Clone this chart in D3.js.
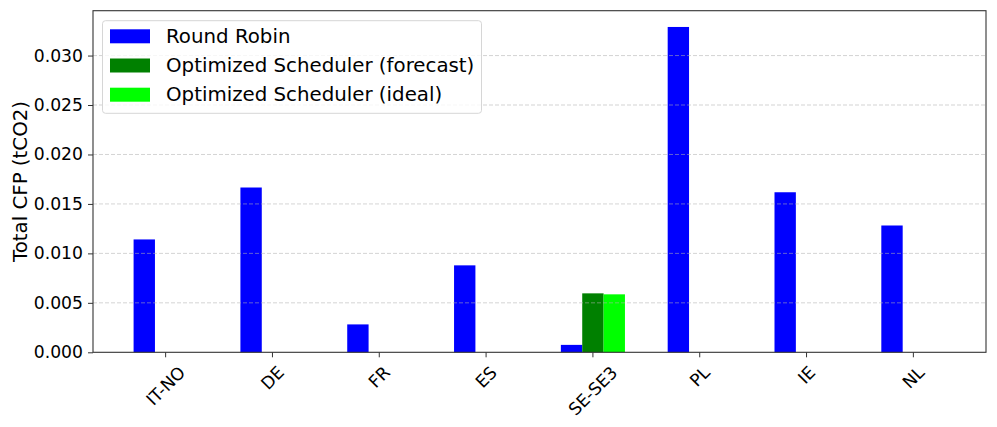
<!DOCTYPE html>
<html>
<head>
<meta charset="utf-8">
<script src="https://cdn.jsdelivr.net/npm/d3@7"></script>
<style>
  body { margin: 0; background: #fff; }
  text { font-family: "DejaVu Sans", sans-serif; fill: #000; }
</style>
</head>
<body>
<div id="chart"></div>
<script>
var svgWidth = 997;
var svgHeight = 427;

var margin = { top: 10.7, right: 11, bottom: 74.7, left: 93 };
var width = svgWidth - margin.left - margin.right;
var height = svgHeight - margin.top - margin.bottom;

// data
var regions = ["IT-NO", "DE", "FR", "ES", "SE-SE3", "PL", "IE", "NL"];
var roundRobin = [0.01141, 0.01666, 0.00282, 0.00879, 0.00075, 0.03289, 0.01618, 0.01282];
var optForecast = [0, 0, 0, 0, 0.00596, 0, 0, 0];
var optIdeal = [0, 0, 0, 0, 0.00586, 0, 0, 0];
var seriesNames = ["Round Robin", "Optimized Scheduler (forecast)", "Optimized Scheduler (ideal)"];
var seriesColors = ["#0000ff", "#008000", "#00ff00"];
var yTicks = [0, 0.005, 0.010, 0.015, 0.020, 0.025, 0.030];

var series = [roundRobin, optForecast, optIdeal];
var barW = 0.2;
var offsets = [-0.2, 0, 0.2];

var svg = d3.select("#chart").append("svg")
  .attr("width", svgWidth)
  .attr("height", svgHeight);

var chartGroup = svg.append("g")
  .attr("transform", `translate(${margin.left}, ${margin.top})`);

// matplotlib-like margins: data spans -0.3 .. 7.3, plus 5%
var lo = -0.3, hi = regions.length - 1 + 0.3;
var pad = (hi - lo) * 0.05;
var x = d3.scaleLinear().domain([lo - pad, hi + pad]).range([0, width]);
var yMax = d3.max(series, s => d3.max(s)) * 1.05;
var y = d3.scaleLinear().domain([0, yMax]).range([height, 0]);

// bars
series.forEach(function(vals, si) {
  chartGroup.append("g").selectAll("rect")
    .data(vals)
    .enter()
    .append("rect")
    .attr("x", (d, i) => x(i + offsets[si] - barW / 2))
    .attr("width", x(barW) - x(0))
    .attr("y", d => y(d))
    .attr("height", d => y(0) - y(d))
    .attr("fill", seriesColors[si]);
});

// grid lines (drawn over bars)
chartGroup.append("g").selectAll("line")
  .data(yTicks.slice(1))
  .enter()
  .append("line")
  .attr("x1", 0)
  .attr("x2", width)
  .attr("y1", d => y(d))
  .attr("y2", d => y(d))
  .attr("stroke", "#b0b0b0")
  .attr("stroke-opacity", 0.55)
  .attr("stroke-width", 1)
  .attr("stroke-dasharray", "4,2");

// y axis
var tickFs = 17.2;
var leftAxis = d3.axisLeft(y).tickValues(yTicks).tickFormat(d3.format(".3f")).tickSize(5).tickPadding(5);
var yAxis = chartGroup.append("g").call(leftAxis);
yAxis.select(".domain").remove();
yAxis.selectAll("line").attr("stroke", "#333");
yAxis.selectAll("text").attr("font-size", tickFs).attr("font-family", "DejaVu Sans").attr("fill", "#000");

// x axis ticks
var xAxis = chartGroup.append("g").attr("transform", `translate(0, ${height})`);
xAxis.selectAll("line")
  .data(regions)
  .enter()
  .append("line")
  .attr("x1", (d, i) => x(i))
  .attr("x2", (d, i) => x(i))
  .attr("y1", 0)
  .attr("y2", 5)
  .attr("stroke", "#333");

// rotated labels, bbox centered under tick (like matplotlib ha=center)
var lh = tickFs * 1.17;
xAxis.selectAll("text")
  .data(regions)
  .enter()
  .append("text")
  .attr("font-size", tickFs)
  .attr("text-anchor", "middle")
  .attr("dominant-baseline", "central")
  .text(d => d)
  .attr("transform", function(d, i) {
    var w = this.getComputedTextLength();
    var half = (w + lh) / (2 * Math.SQRT2);
    return `translate(${x(i)}, ${10 + half}) rotate(-45)`;
  });

// frame
chartGroup.append("rect")
  .attr("x", 0).attr("y", 0)
  .attr("width", width).attr("height", height)
  .attr("fill", "none")
  .attr("stroke", "#333")
  .attr("stroke-width", 1.1);

// y label
svg.append("text")
  .attr("transform", `translate(20, ${margin.top + height / 2}) rotate(-90)`)
  .attr("text-anchor", "middle")
  .attr("dominant-baseline", "central")
  .attr("font-size", 19.8)
  .text("Total CFP (tCO2)");

// legend
var legend = svg.append("g").attr("transform", "translate(102.5, 20.7)");
legend.append("rect")
  .attr("width", 379)
  .attr("height", 92.6)
  .attr("rx", 3)
  .attr("fill", "#fff")
  .attr("fill-opacity", 0.8)
  .attr("stroke", "#d6d6d6");

seriesNames.forEach(function(name, i) {
  var cy = 15.6 + i * 29.2;
  legend.append("rect")
    .attr("x", 7.5)
    .attr("y", cy - 7)
    .attr("width", 40)
    .attr("height", 14)
    .attr("fill", seriesColors[i]);
  legend.append("text")
    .attr("x", 63.5)
    .attr("y", cy)
    .attr("dominant-baseline", "central")
    .attr("font-size", 19.8)
    .text(name);
});
</script>
</body>
</html>
